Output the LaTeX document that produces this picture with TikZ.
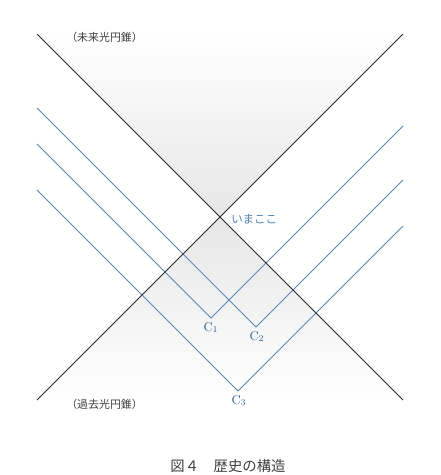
\documentclass[tikz,border=0pt]{standalone}
\usepackage{fontspec}
\newfontfamily\cjk{Noto Sans CJK JP}
\definecolor{lineblue}{HTML}{5A86B4}
\definecolor{labelblue}{HTML}{2F5F94}
\definecolor{nowblue}{HTML}{4F80B6}
\definecolor{conegray}{HTML}{E6E6E6}
\definecolor{txtgray}{HTML}{404040}
\tikzset{
  cone/.style={draw=black!85, line width=0.65pt},
  world/.style={draw=lineblue, line width=0.65pt},
  conelabel/.style={font=\cjk\fontsize{8.2}{9}\selectfont, text=txtgray, inner sep=0pt, anchor=west},
  clabel/.style={font=\fontsize{9.5}{10}\selectfont, text=labelblue, inner sep=0pt},
}
\begin{document}
\begin{tikzpicture}[x=0.75pt,y=-0.75pt]
\useasboundingbox (0,0) rectangle (440,475);
% cone corners and apex
\coordinate (fl) at (37,34);
\coordinate (fr) at (403,34);
\coordinate (pl) at (37,400);
\coordinate (pr) at (403,400);
\coordinate (now) at (220,217);
% shading
\shade[top color=white, bottom color=conegray] (fl) -- (fr) -- (now) -- cycle;
\shade[top color=conegray, bottom color=white] (now) -- (pr) -- (pl) -- cycle;
% world lines
\coordinate (c1) at (211,318);
\coordinate (c1l) at (37,144);
\coordinate (c1r) at (403,126);
\coordinate (c2) at (256,327);
\coordinate (c2l) at (37,108);
\coordinate (c2r) at (403,180);
\coordinate (c3) at (238,391);
\coordinate (c3l) at (37,190);
\coordinate (c3r) at (403,226);
\draw[world] (c1l) -- (c1) -- (c1r);
\draw[world] (c2l) -- (c2) -- (c2r);
\draw[world] (c3l) -- (c3) -- (c3r);
% light cone lines
\draw[cone] (fl) -- (pr);
\draw[cone] (fr) -- (pl);
% labels
\node[conelabel] (futl) at (66,37) {（未来光円錐）};
\node[conelabel] (pastl) at (66,404) {（過去光円錐）};
\node[font=\cjk\fontsize{8.6}{10}\selectfont, text=nowblue, inner sep=0pt, anchor=west] (nowl) at (231,219) {いまここ};
\node[clabel] (c1n) at (211,327.5) {C\textsubscript{1}};
\node[clabel] (c2n) at (257,336.5) {C\textsubscript{2}};
\node[clabel] (c3n) at (239,400.5) {C\textsubscript{3}};
\node[font=\cjk\fontsize{10.8}{12}\selectfont, text=txtgray, inner sep=0pt] (cap) at (228,466) {図４　歴史の構造};
\end{tikzpicture}
\end{document}
